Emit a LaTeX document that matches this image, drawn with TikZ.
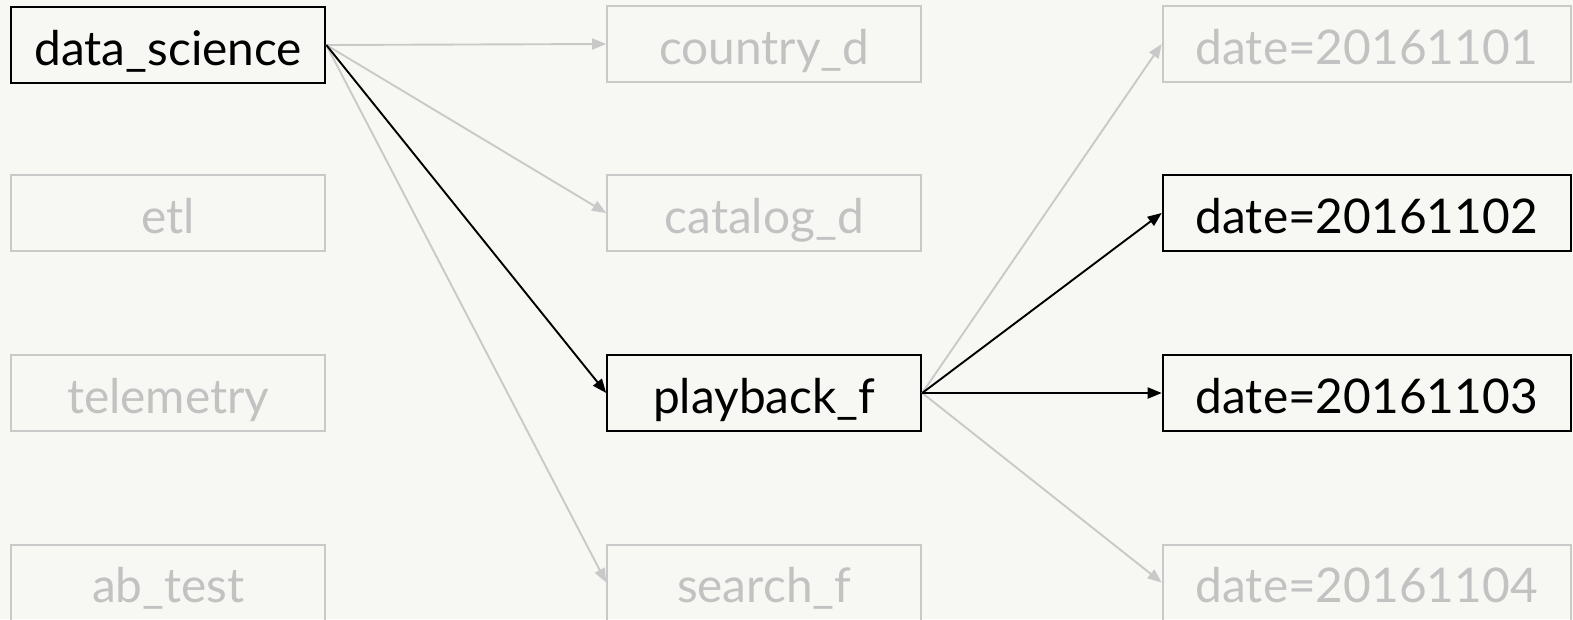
\documentclass[tikz,border=0pt]{standalone}
\usepackage{fontspec}
\setmainfont{Lato}
\usetikzlibrary{arrows.meta}
\definecolor{bgpaper}{HTML}{F7F7F3}
\definecolor{dimgray}{HTML}{C9C9C9}
\definecolor{dimtext}{HTML}{C2C2C2}
\tikzset{
  x=1pt, y=-1pt,
  tbl/.style={draw, line width=2pt, inner sep=0pt, minimum height=76pt,
    text height=48pt, text depth=8pt,
    font=\fontsize{47.8}{52}\selectfont},
  live/.style={tbl, draw=black, text=black},
  idle/.style={tbl, draw=dimgray, text=dimtext},
  narrow/.style={minimum width=314pt},
  wide/.style={minimum width=408pt},
  edge/.style={line width=1.9pt, -{Triangle[length=14pt,width=11pt]}},
  liveedge/.style={edge, draw=black},
  idleedge/.style={edge, draw=dimgray},
}
\begin{document}
\begin{tikzpicture}
\fill[bgpaper] (0,0) rectangle (1573,619);
\useasboundingbox (0,0) rectangle (1573,619);

% first column: databases
\node[live, narrow] (ds)  at (168.3,45)  {data\_science};
\node[idle, narrow] (etl) at (168.3,213) {etl};
\node[idle, narrow] (tel) at (168.3,393) {telemetry};
\node[idle, narrow] (ab)  at (168.3,582.5) {ab\_test};

% second column: tables
\node[idle, narrow] (cty) at (764.2,44)  {country\_d};
\node[idle, narrow] (cat) at (764.2,213) {catalog\_d};
\node[live, narrow] (pb)  at (764.2,393) {playback\_f};
\node[idle, narrow] (sf)  at (764.2,582.5) {search\_f};

% third column: partitions
\node[idle, wide] (d1) at (1366.7,44)  {date=20161101};
\node[live, wide] (d2) at (1366.7,213) {date=20161102};
\node[live, wide] (d3) at (1366.7,393) {date=20161103};
\node[idle, wide] (d4) at (1366.7,582.5) {date=20161104};

% inactive links
\draw[idleedge] (ds.east) -- (cty.west);
\draw[idleedge] (ds.east) -- (cat.west);
\draw[idleedge] (ds.east) -- (sf.west);
\draw[idleedge] (pb.east) -- (d1.west);
\draw[idleedge] (pb.east) -- (d4.west);

% active path
\draw[liveedge] (ds.east) -- (pb.west);
\draw[liveedge] (pb.east) -- (d2.west);
\draw[liveedge] (pb.east) -- (d3.west);
\end{tikzpicture}
\end{document}
